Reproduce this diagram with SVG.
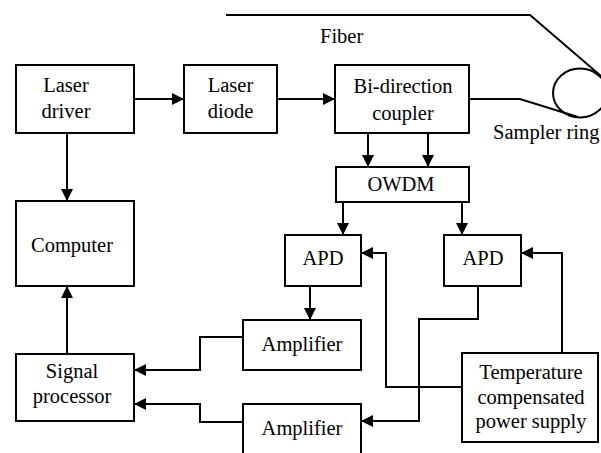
<svg xmlns="http://www.w3.org/2000/svg" width="601" height="453" viewBox="0 0 601 453">
<defs>
<style>
.box{fill:#fff;stroke:#000;stroke-width:2}
.t{font-family:"Liberation Serif","Times New Roman",serif;font-size:20.5px;fill:#000;text-anchor:middle}
.tl{font-family:"Liberation Serif","Times New Roman",serif;font-size:20.5px;fill:#000}
.c{fill:none;stroke:#000;stroke-width:2}
.a{marker-end:url(#arr)}
</style>
<marker id="arr" markerUnits="userSpaceOnUse" markerWidth="13" markerHeight="13" refX="12" refY="6" orient="auto">
<path d="M0,0 L12,6 L0,12 z" fill="#000"/>
</marker>
</defs>
<rect width="601" height="453" fill="#fff"/>
<g id="fiber">
<path class="c" d="M226,15 H530 L601,76"/>
<path class="c" d="M469,99 H520 L578,117"/>
<ellipse cx="580" cy="93" rx="27" ry="24.5" fill="none" stroke="#000" stroke-width="2"/>
<text class="tl" x="320" y="43">Fiber</text>
<text class="tl" x="493" y="139">Sampler ring</text>
</g>
<g id="connectors">
<path class="c a" d="M134,99 H184"/>
<path class="c a" d="M277,99 H335"/>
<path class="c a" d="M67,133 V201"/>
<path class="c a" d="M67,354 V286"/>
<path class="c a" d="M368,133 V167"/>
<path class="c a" d="M428,133 V167"/>
<path class="c a" d="M343,202 V235"/>
<path class="c a" d="M462,202 V235"/>
<path class="c a" d="M310,286 V320"/>
<path class="c a" d="M243,337 H200 V370 H134"/>
<path class="c a" d="M243,422 H200 V404 H134"/>
<path class="c a" d="M478,286 V319 H419 V421 H361"/>
<path class="c a" d="M462,387 H386 V253 H361"/>
<path class="c a" d="M562,353 V253 H521"/>
</g>
<g id="laser-driver">
<rect class="box" x="16" y="65" width="118" height="68"/>
<text class="t" x="66" y="92">Laser</text>
<text class="t" x="66" y="118">driver</text>
</g>
<g id="laser-diode">
<rect class="box" x="184" y="65" width="93" height="68"/>
<text class="t" x="230.5" y="92">Laser</text>
<text class="t" x="230.5" y="118">diode</text>
</g>
<g id="coupler">
<rect class="box" x="335" y="65" width="134" height="68"/>
<text class="t" x="403" y="93">Bi-direction</text>
<text class="t" x="403" y="120">coupler</text>
</g>
<g id="owdm">
<rect class="box" x="336" y="167" width="133" height="35"/>
<text class="t" x="401" y="191">OWDM</text>
</g>
<g id="computer">
<rect class="box" x="16" y="201" width="118" height="85"/>
<text class="t" x="72" y="252">Computer</text>
</g>
<g id="apd1">
<rect class="box" x="285" y="235" width="76" height="51"/>
<text class="t" x="323" y="265">APD</text>
</g>
<g id="apd2">
<rect class="box" x="444" y="235" width="77" height="51"/>
<text class="t" x="483" y="265">APD</text>
</g>
<g id="amplifier1">
<rect class="box" x="243" y="320" width="118" height="50"/>
<text class="t" x="302" y="351">Amplifier</text>
</g>
<g id="amplifier2">
<rect class="box" x="243" y="404" width="118" height="52"/>
<text class="t" x="302" y="435">Amplifier</text>
</g>
<g id="signal-processor">
<rect class="box" x="16" y="354" width="118" height="67"/>
<text class="t" x="72" y="378">Signal</text>
<text class="t" x="72" y="403">processor</text>
</g>
<g id="power-supply">
<rect class="box" x="462" y="353" width="136" height="89"/>
<text class="t" x="531" y="379">Temperature</text>
<text class="t" x="531" y="404">compensated</text>
<text class="t" x="531" y="428">power supply</text>
</g>
</svg>
